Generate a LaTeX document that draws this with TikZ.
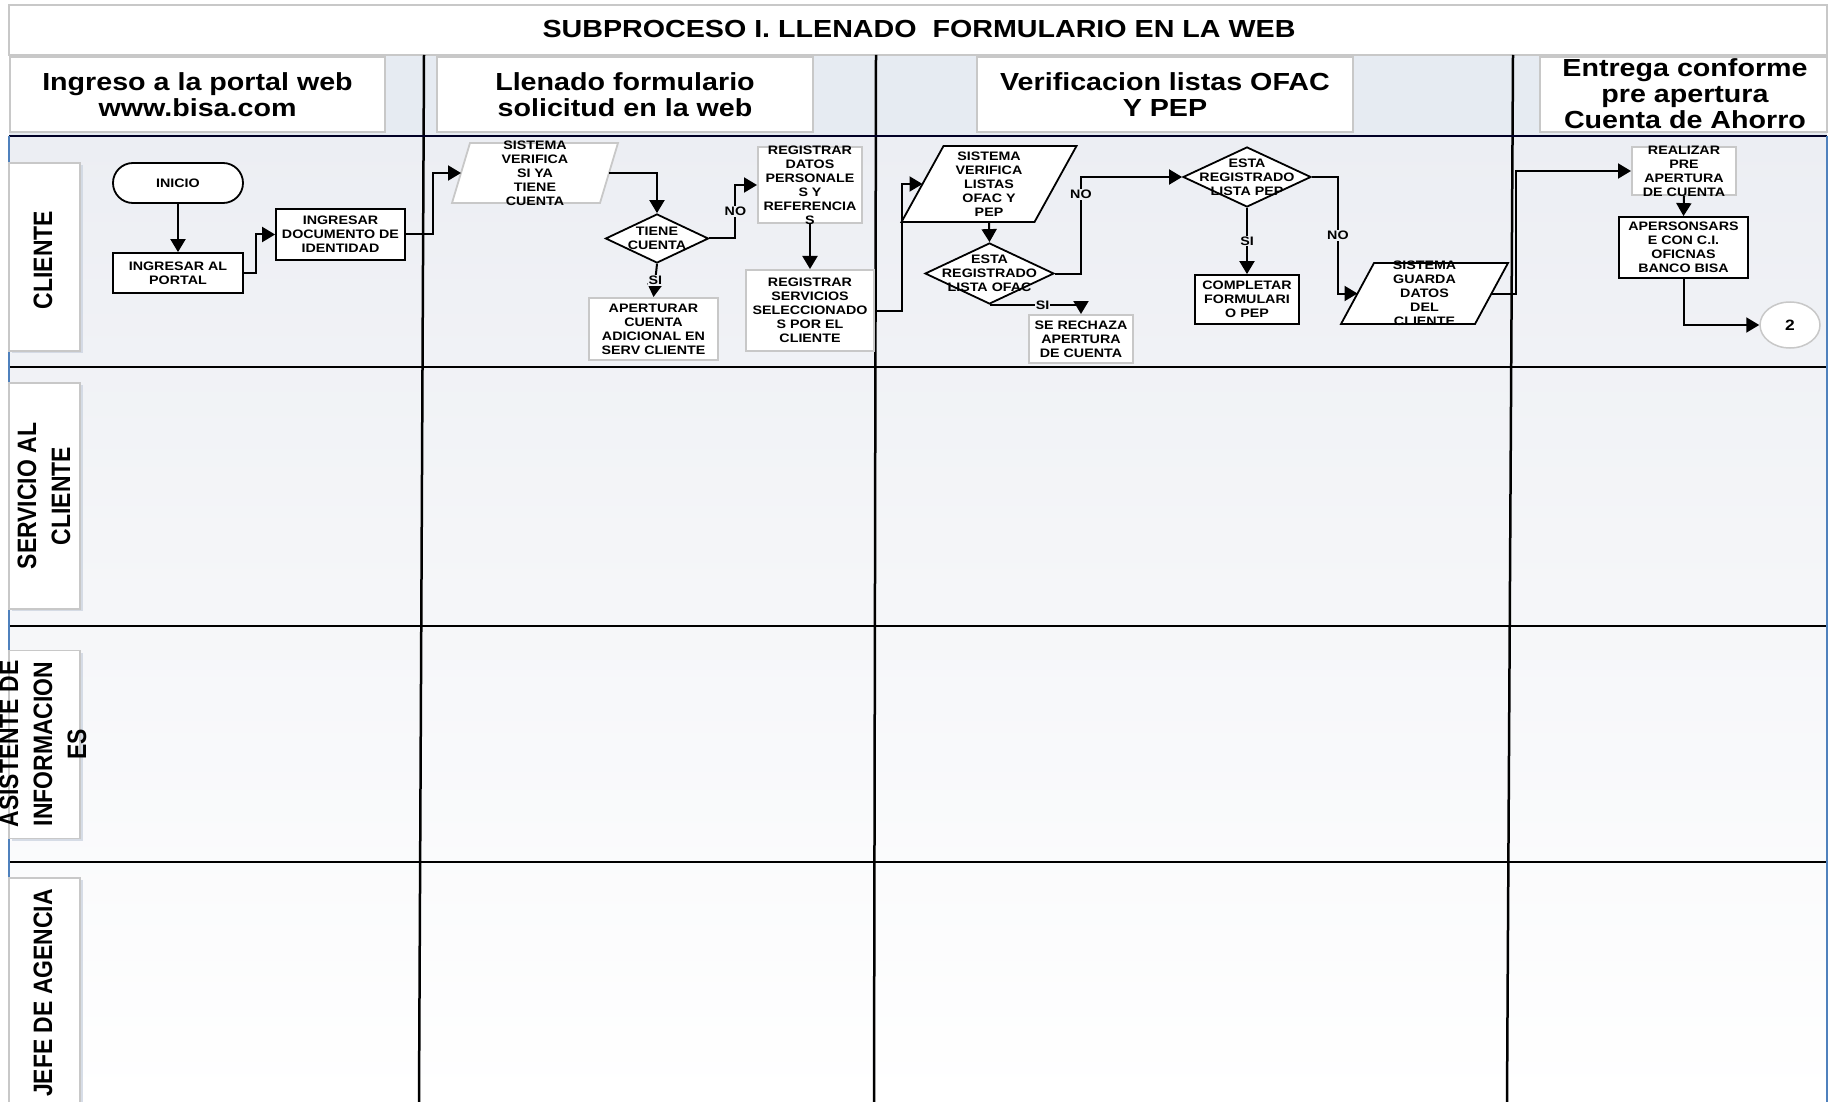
\documentclass[tikz,border=0pt]{standalone}
\usepackage{fontspec}
\usetikzlibrary{shapes.geometric,arrows.meta,shadows,calc}
\newfontfamily\dfont{Liberation Sans}[FakeStretch=1.16]
\newfontfamily\lfont{Liberation Sans}[FakeStretch=0.862]
\definecolor{bordgray}{RGB}{200,200,200}
\definecolor{lanetop}{RGB}{236,238,243}
\definecolor{headbg}{RGB}{230,235,242}
\definecolor{edgeblue}{RGB}{79,129,189}
\definecolor{lblbg}{RGB}{238,240,244}
\definecolor{shadowc}{RGB}{205,213,225}
\tikzset{
  txt/.style={font=\dfont\bfseries\fontsize{12.3}{14}\selectfont, align=center, inner sep=0pt},
  boxk/.style={draw=black, line width=1.8pt, fill=white, inner sep=0pt, rectangle},
  boxg/.style={draw=bordgray, line width=2pt, fill=white, inner sep=0pt, rectangle},
  dia/.style={draw=black, line width=1.8pt, fill=white, diamond, inner sep=0pt},
  arr/.style={line width=2pt, -{Triangle[length=13pt,width=15pt]}},
  lbl/.style={font=\dfont\bfseries\fontsize{12.3}{14}\selectfont, fill=lblbg, inner sep=1pt},
  headbox/.style={draw=bordgray, line width=1.5pt, fill=white, inner sep=0pt, rectangle},
  headtxt/.style={font=\dfont\bfseries\fontsize{24.7}{26}\selectfont, align=center, inner sep=0pt},
  lanebox/.style={draw=bordgray, line width=1.5pt, fill=white, inner sep=0pt, rectangle,
     drop shadow={shadow xshift=2.5pt, shadow yshift=-2pt, fill=shadowc, opacity=0.8}},
  lanetxt/.style={font=\lfont\bfseries\fontsize{26.6}{34}\selectfont, align=center, rotate=90, inner sep=0pt},
  laneline/.style={line width=2pt, black},
  colline/.style={line width=2.5pt, black},
}
% shape node with separate text node
\newcommand\fnode[6]{%
  \node[#1, minimum width=#4pt, minimum height=#5pt] (#2) at (#3) {};
  \node[txt] (#2-t) at (#2.center) {#6};}
% parallelogram: color, name, cx, cy, w, h, slant, text
\newcommand\pnode[8]{%
  \filldraw[fill=white, draw=#1, line width=1.8pt]
    ({#3-#5/2+#7/2},{#4-#6/2}) -- ({#3+#5/2+#7/2},{#4-#6/2}) --
    ({#3+#5/2-#7/2},{#4+#6/2}) -- ({#3-#5/2-#7/2},{#4+#6/2}) -- cycle;
  \coordinate (#2-w) at ({#3-#5/2},#4);
  \coordinate (#2-e) at ({#3+#5/2},#4);
  \coordinate (#2-s) at (#3,{#4+#6/2});
  \node[txt] (#2) at (#3,#4) {#8};}
\begin{document}
\begin{tikzpicture}[x=1pt,y=-1pt]
\useasboundingbox (0,0) rectangle (1829,1102);
\fill[white] (0,0) rectangle (1829,1102);
% backgrounds
\fill[headbg] (9,55) rectangle (1827,136);
\shade[top color=lanetop, bottom color=white] (9,136) rectangle (1827,1102);
% title row
\draw[bordgray, line width=1.5pt, fill=white] (9,5) rectangle (1827,55);
\node[headtxt] (title) at (919,29) {SUBPROCESO I. LLENADO~ FORMULARIO EN LA WEB};
% column lines
\draw[colline] (424,55) -- (419,1102);
\draw[colline] (876,55) -- (874,1102);
\draw[colline] (1513,55) -- (1507,1102);
% lane lines
\draw[line width=2.5pt, black!85!blue] (9,136) -- (1827,136);
\draw[laneline] (9,367) -- (1827,367);
\draw[laneline] (9,626) -- (1827,626);
\draw[laneline] (9,862) -- (1827,862);
% side borders
\draw[edgeblue, line width=1.5pt] (9,136) -- (9,1102);
\draw[edgeblue, line width=1.5pt] (1827,136) -- (1827,1102);
% header boxes
\node[headbox, minimum width=375pt, minimum height=75pt] (h1) at (197.5,94.5) {};
\node[headtxt] (h1-t) at (h1.center) {Ingreso a la portal web\\www.bisa.com};
\node[headbox, minimum width=376pt, minimum height=75pt] (h2) at (625,94.5) {};
\node[headtxt] (h2-t) at (h2.center) {Llenado formulario\\solicitud en la web};
\node[headbox, minimum width=376pt, minimum height=75pt] (h3) at (1165,94.5) {};
\node[headtxt] (h3-t) at (h3.center) {Verificacion listas OFAC\\Y PEP};
\node[headbox, minimum width=287pt, minimum height=75pt] (h4) at (1683.5,94.5) {};
\node[headtxt] (h4-t) at (1685,94) {Entrega conforme\\pre apertura\\Cuenta de Ahorro};
% lane labels
\node[lanebox, minimum width=71pt, minimum height=188pt] (l1) at (44.5,257) {};
\node[lanetxt] (l1-t) at (43,260) {CLIENTE};
\node[lanebox, minimum width=71pt, minimum height=226pt] (l2) at (44.5,496) {};
\node[lanetxt] (l2-t) at (44,496) {SERVICIO AL\\CLIENTE};
\node[lanebox, minimum width=71pt, minimum height=188pt] (l3) at (44.5,744.5) {};
\node[lanetxt] (l3-t) at (43,744) {ASISTENTE DE\\INFORMACION\\ES};
\node[lanebox, minimum width=71pt, minimum height=232pt] (l4) at (44.5,994) {};
\node[lanetxt] (l4-t) at (43,993) {JEFE DE AGENCIA};
% ---- flow nodes ----
\fnode{boxk, rounded corners=20pt}{inicio}{178,183}{130}{40}{INICIO}
\fnode{boxk}{portal}{178,273}{130}{40}{INGRESAR AL\\PORTAL}
\fnode{boxk}{doc}{340.5,234.5}{129}{51}{INGRESAR\\DOCUMENTO DE\\IDENTIDAD}
\pnode{bordgray}{p1}{535}{173}{148}{60}{18}{SISTEMA\\VERIFICA\\SI YA\\TIENE\\CUENTA}
\fnode{dia}{tiene}{657,238.5}{103}{49}{TIENE\\CUENTA}
\fnode{boxg}{apert}{653.5,329}{129}{62}{APERTURAR\\CUENTA\\ADICIONAL EN\\SERV CLIENTE}
\fnode{boxg}{regdat}{810,185}{104}{76}{REGISTRAR\\DATOS\\PERSONALE\\S Y\\REFERENCIA\\S}
\fnode{boxg}{regserv}{810,310.5}{128}{81}{REGISTRAR\\SERVICIOS\\SELECCIONADO\\S POR EL\\CLIENTE}
\pnode{black}{p2}{989}{184}{133}{76}{42}{SISTEMA\\VERIFICA\\LISTAS\\OFAC Y\\PEP}
\fnode{dia}{ofac}{989.5,273.5}{129}{61}{ESTA\\REGISTRADO\\LISTA OFAC}
\fnode{boxg}{sere}{1081,339}{104}{48}{SE RECHAZA\\APERTURA\\DE CUENTA}
\fnode{dia}{pep}{1247,177}{128}{60}{ESTA\\REGISTRADO\\LISTA PEP}
\fnode{boxk}{compl}{1247,299.5}{104}{49}{COMPLETAR\\FORMULARI\\O PEP}
\pnode{black}{p3}{1424.5}{293.5}{134}{61}{33}{SISTEMA\\GUARDA\\DATOS\\DEL\\CLIENTE}
\fnode{boxg}{realizar}{1684,171}{104}{48}{REALIZAR\\PRE\\APERTURA\\DE CUENTA}
\fnode{boxk}{aperson}{1683.5,247.5}{129}{61}{APERSONSARS\\E CON C.I.\\OFICNAS\\BANCO BISA}
\node[draw=bordgray, line width=1.5pt, fill=white, ellipse, minimum width=60pt, minimum height=46pt, inner sep=0pt,
      font=\dfont\bfseries\fontsize{15}{17}\selectfont] (circ) at (1790,325) {2};
% ---- connectors ----
\draw[arr] (inicio.south) -- (portal.north);
\draw[arr] (portal.east) -- ++(12,0) |- (doc.west);
\draw[arr] (doc.east) -- ++(27,0) |- (p1-w);
\draw[arr] (p1-e) -| (tiene.north);
\draw[arr] (tiene.south) -- node[lbl]{SI} (apert.north);
\draw[arr] (tiene.east) -- ++(26,0) |- node[lbl,pos=0.25]{NO} (regdat.west);
\draw[arr] (regdat.south) -- (regserv.north);
\draw[arr] (regserv.east) -- ++(27,0) |- (p2-w);
\draw[arr] (p2-s) -- (ofac.north);
\draw[arr] (ofac.east) -- ++(26,0) |- node[lbl,pos=0.41]{NO} (pep.west);
\draw[arr] (ofac.south) -| node[lbl,pos=0.29]{SI} (sere.north);
\draw[arr] (pep.south) -- node[lbl]{SI} (compl.north);
\draw[arr] (pep.east) -- ++(26,0) |- node[lbl,pos=0.25]{NO} (p3-w);
\draw[arr] (p3-e) -- ++(24,0) |- (realizar.west);
\draw[arr] (realizar.south) -- (aperson.north);
\draw[arr] (aperson.south) |- (circ.west);
\end{tikzpicture}
\end{document}
